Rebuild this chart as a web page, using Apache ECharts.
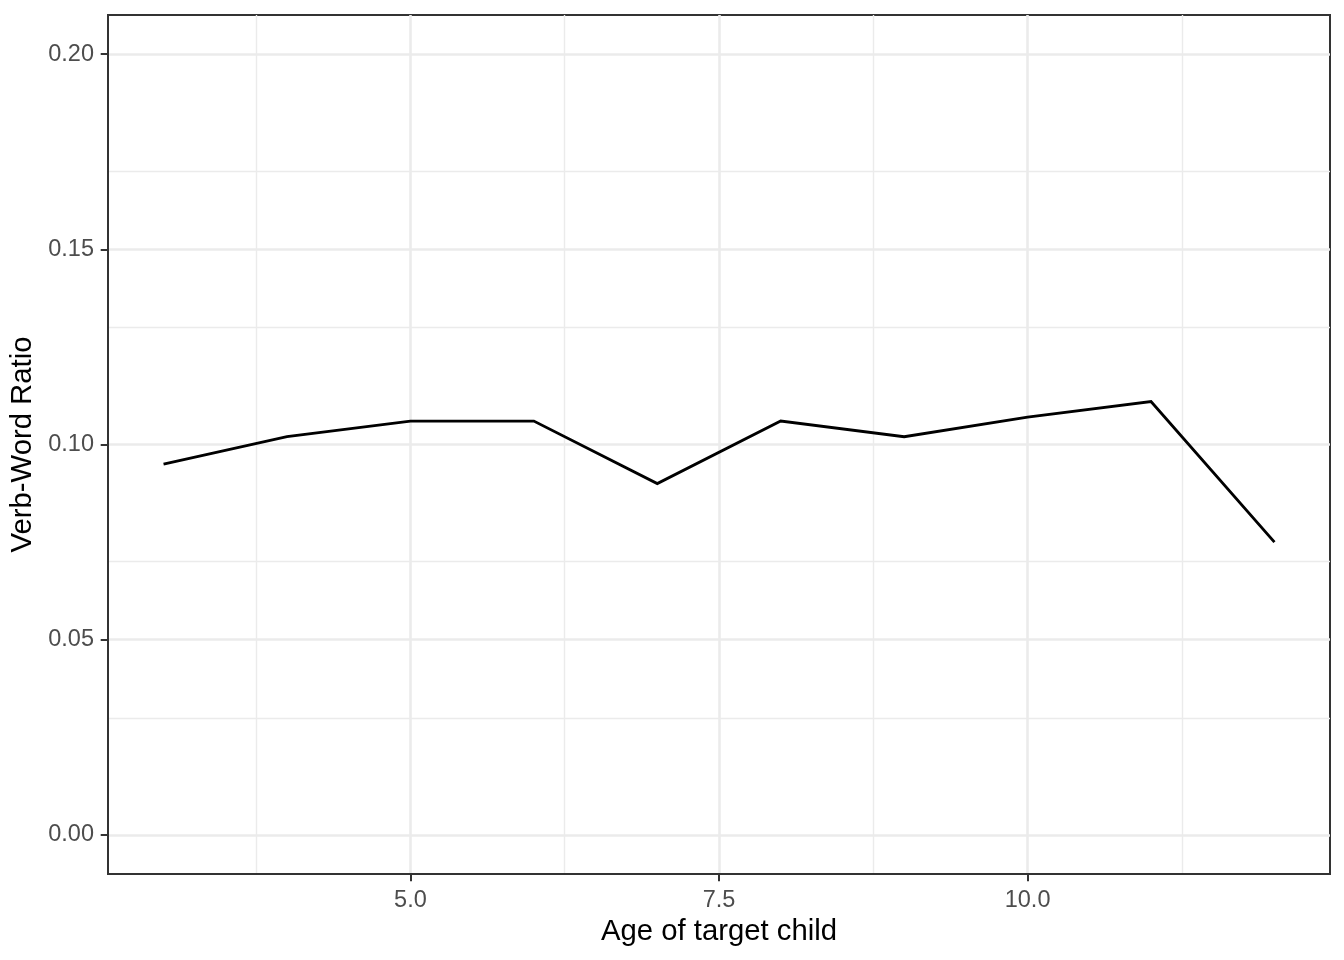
<!DOCTYPE html>
<html>
<head>
<meta charset="utf-8">
<script src="https://cdn.jsdelivr.net/npm/echarts@6/dist/echarts.min.js"></script>
<style>
html,body{margin:0;padding:0;background:#fff;}
#chart{width:1344px;height:960px;}
</style>
</head>
<body>
<div id="chart"></div>
<script>
// Data
const ages = [3, 4, 5, 6, 7, 8, 9, 10, 11, 12];
const verbWordRatio = [0.095, 0.102, 0.106, 0.106, 0.090, 0.106, 0.102, 0.107, 0.111, 0.075];

// Axis breaks
const xMajor = [5, 7.5, 10];
const xMinor = [3.75, 6.25, 8.75, 11.25];
const yMajor = [0, 0.05, 0.10, 0.15, 0.20];
const yMinor = [0.025, 0.075, 0.125, 0.175];

const FONT = "'Liberation Sans', Arial, Helvetica, sans-serif";
const GRID_COLOR = '#EBEBEB';

const chart = echarts.init(document.getElementById('chart'), null, {renderer: 'canvas'});

const minorStyle = {type: 'solid', width: 1.4, color: GRID_COLOR, opacity: 1};
const majorStyle = {type: 'solid', width: 2.6, color: GRID_COLOR, opacity: 1};
const gridLines = [];
xMinor.forEach(v => gridLines.push({xAxis: v, lineStyle: minorStyle}));
yMinor.forEach(v => gridLines.push({yAxis: v, lineStyle: minorStyle}));
xMajor.forEach(v => gridLines.push({xAxis: v, lineStyle: majorStyle}));
yMajor.forEach(v => gridLines.push({yAxis: v, lineStyle: majorStyle}));

const option = {
  backgroundColor: '#ffffff',
  animation: false,
  grid: {
    left: 108, right: 14, top: 15, bottom: 86,
    show: true, borderColor: '#333333', borderWidth: 2, backgroundColor: '#ffffff'
  },
  xAxis: {
    type: 'value',
    min: 2.55, max: 12.45,
    z: 4,
    name: 'Age of target child',
    nameLocation: 'middle',
    nameGap: 43,
    nameTextStyle: {fontFamily: FONT, fontSize: 29.3, color: '#000000'},
    axisLine: {show: true, onZero: false, lineStyle: {color: '#333333', width: 2}},
    splitLine: {show: false},
    axisTick: {show: true, inside: false, customValues: xMajor, length: 7.3, lineStyle: {color: '#333333', width: 2}},
    axisLabel: {
      customValues: xMajor, margin: 15,
      fontFamily: FONT, fontSize: 23.5, color: '#4D4D4D',
      formatter: v => v.toFixed(1)
    }
  },
  yAxis: {
    type: 'value',
    min: -0.01, max: 0.21,
    z: 4,
    name: 'Verb-Word Ratio',
    nameLocation: 'middle',
    nameGap: 66,
    nameTextStyle: {fontFamily: FONT, fontSize: 29.3, color: '#000000'},
    axisLine: {show: true, onZero: false, lineStyle: {color: '#333333', width: 2}},
    splitLine: {show: false},
    axisTick: {show: true, inside: false, customValues: yMajor, length: 7.3, lineStyle: {color: '#333333', width: 2}},
    axisLabel: {
      customValues: yMajor, margin: 14,
      fontFamily: FONT, fontSize: 23.5, color: '#4D4D4D',
      formatter: v => v.toFixed(2)
    }
  },
  series: [
    {
      type: 'line',
      z: 1,
      data: [],
      silent: true,
      markLine: {
        z: 1,
        silent: true,
        symbol: ['none', 'none'],
        label: {show: false},
        emphasis: {disabled: true},
        animation: false,
        data: gridLines
      }
    },
    {
      type: 'line',
      z: 3,
      data: ages.map((a, i) => [a, verbWordRatio[i]]),
      symbol: 'none',
      silent: true,
      lineStyle: {color: '#000000', width: 2.85, cap: 'butt', join: 'miter'}
    }
  ]
};
chart.setOption(option);
</script>
</body>
</html>
